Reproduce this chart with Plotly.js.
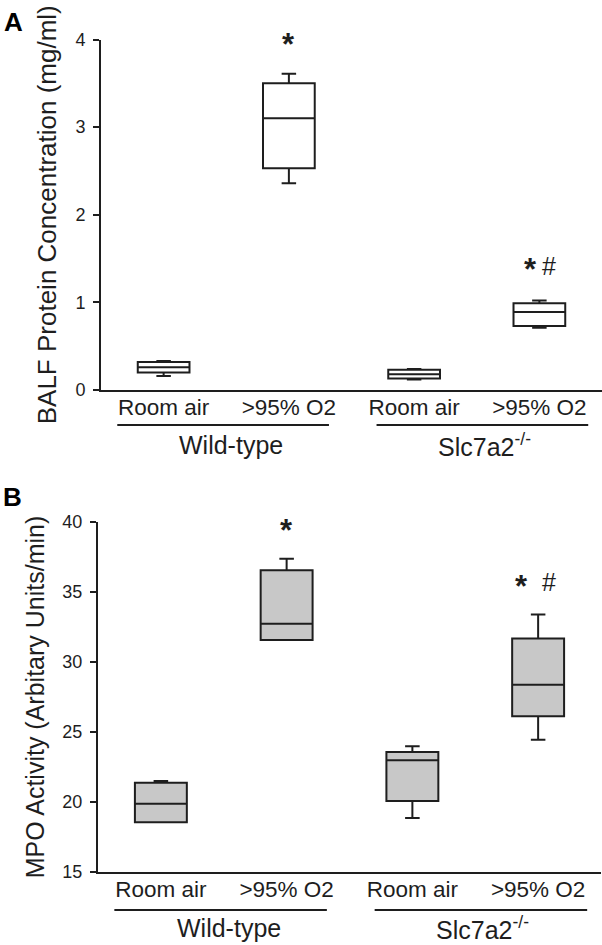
<!DOCTYPE html>
<html>
<head>
<meta charset="utf-8">
<script src="https://cdn.plot.ly/plotly-3.0.1.min.js"></script>
<style>html,body{margin:0;padding:0;background:#fff;}#chart{width:602px;height:945px;}</style>
</head>
<body>
<div id="chart"></div>
<script>
// ---- data ----
const positions = [0, 1, 2, 3];
const conditionLabels = ['Room air', '>95% O2', 'Room air', '>95% O2'];
const groupLabels = ['Wild-type', 'Slc7a2<sup>-/-</sup>'];
const groupCenters = [0.54, 2.56];
const groupLineStart = [-0.37, 1.70];
const groupLineEnd = [1.32, 3.39];

// Panel A: BALF protein (mg/ml)
const balfLowerFence = [0.16, 2.36, 0.12, 0.71];
const balfQ1         = [0.20, 2.53, 0.13, 0.73];
const balfMedian     = [0.26, 3.10, 0.18, 0.89];
const balfQ3         = [0.32, 3.50, 0.23, 0.99];
const balfUpperFence = [0.33, 3.61, 0.24, 1.02];
const balfTicks = [0, 1, 2, 3, 4];

// Panel B: MPO activity (arbitrary units/min)
const mpoLowerFence = [18.55, 31.57, 18.86, 24.45];
const mpoQ1         = [18.55, 31.57, 20.07, 26.12];
const mpoMedian     = [19.88, 32.74, 22.98, 28.38];
const mpoQ3         = [21.38, 36.55, 23.57, 31.67];
const mpoUpperFence = [21.50, 37.38, 23.98, 33.40];
const mpoTicks = [15, 20, 25, 30, 35, 40];

// significance marks: [panel, x, y]
const starMarks = [['A', 1, 3.975], ['A', 2.93, 1.404], ['B', 1, 39.64], ['B', 2.87, 35.64]];
const hashMarks = [['A', 3.08, 1.404], ['B', 3.09, 35.64]];

// ---- style ----
const ink = '#1e1e1e';
const FONT = 'Liberation Sans, Arial, sans-serif';

function boxTrace(xa, ya, lf, q1, med, q3, uf, fill) {
  return {
    type: 'box', xaxis: xa, yaxis: ya,
    x: positions, q1: q1, median: med, q3: q3,
    lowerfence: lf, upperfence: uf,
    boxpoints: false, fillcolor: fill,
    line: {color: ink, width: 2},
    whiskerwidth: 0.28, hoverinfo: 'skip', showlegend: false
  };
}

const traces = [
  boxTrace('x', 'y', balfLowerFence, balfQ1, balfMedian, balfQ3, balfUpperFence, '#ffffff'),
  boxTrace('x2', 'y2', mpoLowerFence, mpoQ1, mpoMedian, mpoQ3, mpoUpperFence, '#c8c8c8')
];

function xAxis(domain, anchor) {
  return {
    domain: domain, anchor: anchor, range: [-0.5, 3.5],
    tickvals: positions, ticktext: conditionLabels,
    ticks: '', showgrid: false, zeroline: false,
    showline: true, linecolor: ink, linewidth: 2,
    tickfont: {family: FONT, size: 22.5, color: ink},
    ticklabelstandoff: -4,
    fixedrange: true
  };
}
function yAxis(domain, anchor, range, ticks, title, tsize) {
  return {
    domain: domain, anchor: anchor, range: range,
    tickvals: ticks, ticks: 'outside', ticklen: 6, tickwidth: 2, tickcolor: ink,
    showgrid: false, zeroline: false,
    showline: true, linecolor: ink, linewidth: 2,
    tickfont: {family: FONT, size: 18, color: ink},
    ticklabelstandoff: 4,
    title: {text: title, font: {family: FONT, size: tsize, color: ink}, standoff: 11},
    fixedrange: true
  };
}

const annotations = [];
const shapes = [];
const panels = {A: {xref: 'x', yref: 'y', lineY: 0.5503, labelY: 0.529},
                B: {xref: 'x2', yref: 'y2', lineY: 0.037, labelY: 0.018}};
['A', 'B'].forEach(p => {
  const P = panels[p];
  for (let g = 0; g < 2; g++) {
    shapes.push({type: 'line', xref: P.xref, yref: 'paper',
      x0: groupLineStart[g], x1: groupLineEnd[g], y0: P.lineY, y1: P.lineY,
      line: {color: ink, width: 2}});
    annotations.push({xref: P.xref, yref: 'paper', x: groupCenters[g], y: P.labelY,
      text: groupLabels[g], showarrow: false, xanchor: 'center', yanchor: 'middle',
      font: {family: FONT, size: 25, color: ink}});
  }
});
starMarks.forEach(m => {
  const P = panels[m[0]];
  annotations.push({xref: P.xref, yref: P.yref, x: m[1], y: m[2], text: '<b>*</b>',
    showarrow: false, xanchor: 'center', yanchor: 'middle', yshift: -3,
    font: {family: FONT, size: 31, color: ink}});
});
hashMarks.forEach(m => {
  const P = panels[m[0]];
  annotations.push({xref: P.xref, yref: P.yref, x: m[1], y: m[2], text: '#',
    showarrow: false, xanchor: 'center', yanchor: 'middle', yshift: 1,
    font: {family: FONT, size: 25, color: ink}});
});
annotations.push({xref: 'paper', yref: 'paper', x: 0.004, y: 1 - 22 / 945, text: '<b>A</b>',
  showarrow: false, xanchor: 'left', yanchor: 'middle', font: {family: FONT, size: 26, color: '#000'}});
annotations.push({xref: 'paper', yref: 'paper', x: 0.002, y: 1 - 497 / 945, text: '<b>B</b>',
  showarrow: false, xanchor: 'left', yanchor: 'middle', font: {family: FONT, size: 26, color: '#000'}});

const layout = {
  width: 602, height: 945,
  margin: {l: 0, r: 0, t: 0, b: 0},
  paper_bgcolor: '#ffffff', plot_bgcolor: '#ffffff',
  font: {family: FONT, color: ink},
  boxgap: 0.41,
  xaxis: xAxis([101 / 602, 1], 'y'),
  yaxis: yAxis([1 - 390 / 945, 1 - 39.5 / 945], 'x', [0, 4], balfTicks, 'BALF Protein Concentration (mg/ml)', 26),
  xaxis2: xAxis([98 / 602, 601 / 602], 'y2'),
  yaxis2: yAxis([1 - 872 / 945, 1 - 522 / 945], 'x2', [15, 40], mpoTicks, 'MPO Activity (Arbitary Units/min)', 25),
  annotations: annotations,
  shapes: shapes
};

Plotly.newPlot('chart', traces, layout, {displayModeBar: false, staticPlot: true});
</script>
</body>
</html>
